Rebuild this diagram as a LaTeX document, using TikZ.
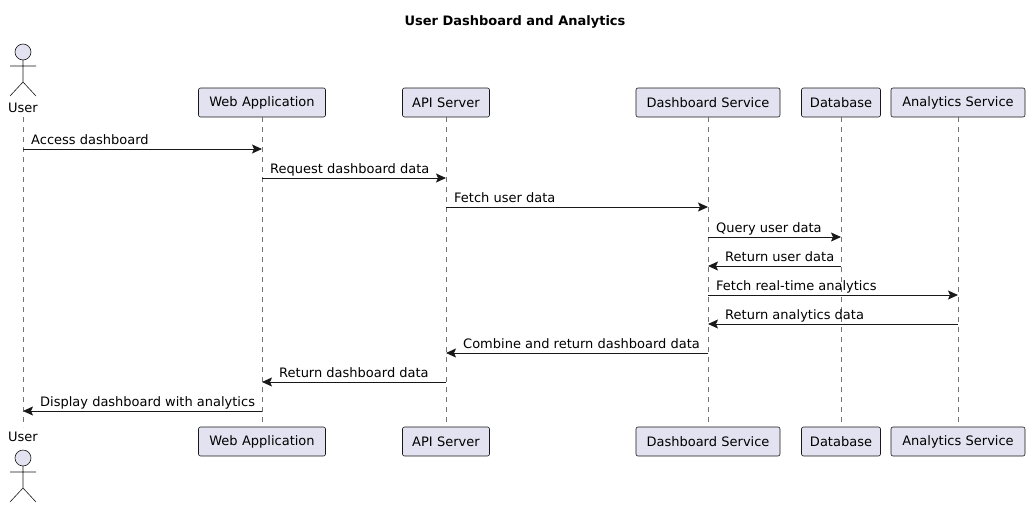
\documentclass[tikz,border=0pt]{standalone}
\usepackage{fontspec}
\setmainfont{DejaVu Sans}
\usetikzlibrary{arrows.meta,positioning}
\definecolor{umlfill}{HTML}{E2E2F0}
\definecolor{umlline}{HTML}{181818}
\begin{document}
\begin{tikzpicture}[x=1pt,y=-1pt,
  part/.style={draw=umlline, fill=umlfill, rounded corners=2pt, font=\fontsize{13}{15}\selectfont,
    minimum height=29pt, inner xsep=6pt, line width=0.6pt},
  life/.style={umlline!60, dash pattern=on 5pt off 5pt, line width=0.6pt},
  msg/.style={-{Stealth[length=10pt,width=9pt,inset=2pt]}, umlline, line width=0.9pt},
  lbl/.style={font=\fontsize{13}{15}\selectfont, anchor=base west, inner sep=0pt}]
\useasboundingbox (0,0) rectangle (1031,509);
\node[font=\bfseries\fontsize{13}{15}\selectfont] (title) at (515,22) {User Dashboard and Analytics};
% participants, top and bottom
\foreach \n/\x/\t/\w in {web/262/Web Application/127, api/446/API Server/87,
    dash/708/Dashboard Service/144, db/841/Database/79, ana/958/Analytics Service/134}{
  \node[part, minimum width=\w pt, text width=\w pt-12pt, align=center] (\n top) at (\x,102.5) {\t};
  \node[part, minimum width=\w pt, text width=\w pt-12pt, align=center] (\n bot) at (\x,441.5) {\t};
  \draw[life] (\n top.south) -- (\n bot.north);
}
% actor
\coordinate (usertop) at (23,117);
\coordinate (userbot) at (23,427);
\draw[life] (usertop) -- (userbot);
\foreach \n/\y in {top/52, bot/458}{
  \draw[umlline, fill=umlfill, line width=0.6pt] (23,\y) circle (8);
  \draw[umlline, line width=0.6pt] (23,\y+8) -- (23,\y+30) (10,\y+14) -- (36,\y+14)
    (10,\y+44) -- (23,\y+30) -- (36,\y+44);
}
\node[font=\fontsize{13}{15}\selectfont] (userlbl) at (23,108) {User};
\node[font=\fontsize{13}{15}\selectfont] (userlbl2) at (23,437) {User};
% messages
\foreach \a/\b/\y/\t/\d in {user/web/149/Access dashboard/r,
    web/api/178/Request dashboard data/r,
    api/dash/207/Fetch user data/r,
    dash/db/237/Query user data/r,
    db/dash/266/Return user data/l,
    dash/ana/295/Fetch real-time analytics/r,
    ana/dash/324/Return analytics data/l,
    dash/api/353/Combine and return dashboard data/l,
    api/web/382/Return dashboard data/l,
    web/user/411/Display dashboard with analytics/l}{
  \coordinate (m) at (0,\y);
  \draw[msg] (\a top |- m) -- (\b top |- m);
  \if r\d
    \node[lbl] at ([xshift=8pt,yshift=5pt]\a top |- m) {\t};
  \else
    \node[lbl] at ([xshift=17pt,yshift=5pt]\b top |- m) {\t};
  \fi
}
\end{tikzpicture}
\end{document}
